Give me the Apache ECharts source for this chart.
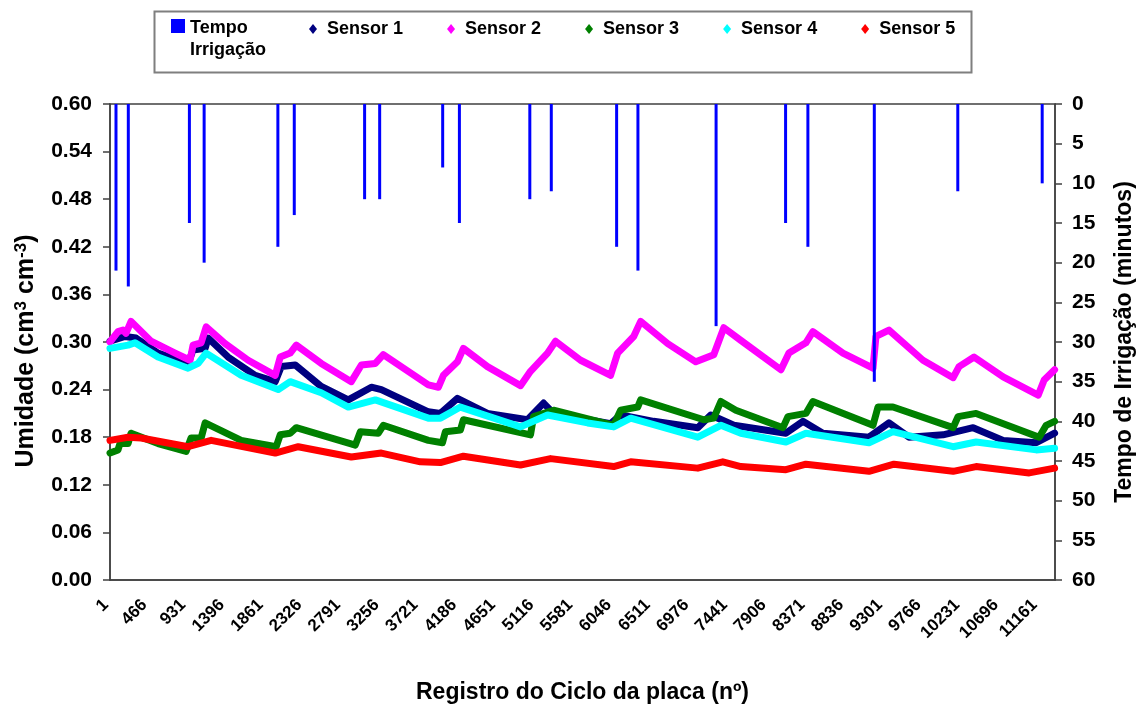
<!DOCTYPE html>
<html>
<head>
<meta charset="utf-8">
<script src="https://cdn.jsdelivr.net/npm/echarts@6/dist/echarts.min.js"></script>
<style>
html,body{margin:0;padding:0;background:#fff;}
#chart{width:1141px;height:704px;}
</style>
</head>
<body>
<div id="chart"></div>
<script>
// x tick labels (record numbers)
const xTickLabels = [1,466,931,1396,1861,2326,2791,3256,3721,4186,4651,5116,5581,6046,6511,6976,7441,7906,8371,8836,9301,9766,10231,10696,11161];
const xMax = 11355;

// Irrigation time (minutes) at record number
const tempoIrrigacao = [[73,21],[221,23],[955,15],[1132,20],[2018,18],[2215,14],[3060,12],[3241,12],[3998,8],[4199,15],[5045,12],[5303,11],[6088,18],[6344,21],[7283,28],[8118,15],[8386,18],[9184,35],[10187,11],[11201,10]];

const sensor1 = [[1,0.301],[181,0.307],[314,0.305],[578,0.286],[939,0.273],[999,0.290],[1144,0.292],[1180,0.305],[1420,0.281],[1745,0.258],[1986,0.250],[2058,0.269],[2227,0.271],[2539,0.244],[2864,0.227],[3141,0.243],[3261,0.240],[3826,0.212],[3971,0.210],[4175,0.229],[4536,0.210],[5017,0.202],[5210,0.223],[5330,0.210],[6016,0.197],[6136,0.208],[6533,0.200],[7063,0.192],[7219,0.208],[7496,0.195],[8122,0.185],[8326,0.200],[8566,0.185],[9120,0.180],[9360,0.198],[9601,0.180],[10010,0.183],[10371,0.192],[10732,0.176],[11129,0.173],[11350,0.185]];

const sensor2 = [[1,0.300],[97,0.313],[157,0.315],[193,0.311],[254,0.326],[494,0.301],[783,0.286],[963,0.277],[999,0.296],[1096,0.299],[1156,0.319],[1384,0.298],[1661,0.277],[1986,0.258],[2046,0.281],[2166,0.286],[2239,0.296],[2539,0.273],[2900,0.250],[3021,0.271],[3189,0.273],[3285,0.284],[3826,0.246],[3947,0.243],[4007,0.258],[4175,0.275],[4247,0.292],[4536,0.269],[4933,0.245],[5053,0.263],[5258,0.286],[5354,0.301],[5655,0.277],[6016,0.258],[6100,0.286],[6293,0.307],[6377,0.326],[6702,0.298],[7039,0.275],[7255,0.284],[7376,0.318],[7580,0.302],[8062,0.265],[8158,0.286],[8362,0.299],[8446,0.313],[8807,0.286],[9168,0.267],[9204,0.307],[9360,0.315],[9769,0.277],[10131,0.255],[10202,0.269],[10383,0.281],[10732,0.256],[11153,0.233],[11225,0.252],[11350,0.265]];

const sensor3 = [[1,0.160],[97,0.164],[121,0.172],[218,0.172],[254,0.185],[578,0.172],[915,0.162],[975,0.179],[1096,0.179],[1144,0.198],[1577,0.176],[1998,0.168],[2046,0.183],[2166,0.185],[2239,0.192],[2948,0.170],[3009,0.187],[3225,0.185],[3285,0.195],[3826,0.176],[3995,0.173],[4031,0.187],[4211,0.189],[4247,0.202],[5053,0.183],[5090,0.206],[5330,0.214],[6052,0.195],[6136,0.214],[6341,0.218],[6377,0.227],[7135,0.202],[7255,0.204],[7340,0.225],[7520,0.214],[8086,0.192],[8146,0.206],[8362,0.210],[8446,0.225],[9168,0.195],[9228,0.218],[9408,0.218],[10131,0.192],[10190,0.206],[10407,0.210],[11165,0.180],[11249,0.195],[11350,0.200]];

const sensor4 = [[1,0.292],[218,0.296],[302,0.299],[578,0.281],[939,0.267],[1060,0.273],[1156,0.286],[1577,0.258],[2022,0.240],[2166,0.250],[2539,0.236],[2864,0.218],[3189,0.227],[3826,0.204],[3971,0.204],[4211,0.218],[4933,0.193],[5258,0.208],[5739,0.198],[6052,0.193],[6257,0.204],[7063,0.180],[7340,0.195],[7580,0.185],[8122,0.174],[8362,0.185],[9120,0.173],[9408,0.187],[10131,0.168],[10407,0.174],[11129,0.164],[11350,0.166]];

const sensor5 = [[1,0.176],[218,0.180],[374,0.179],[939,0.168],[1216,0.176],[1986,0.160],[2263,0.168],[2900,0.155],[3261,0.160],[3730,0.149],[3971,0.148],[4247,0.156],[4933,0.145],[5294,0.153],[6052,0.143],[6257,0.149],[7063,0.141],[7364,0.149],[7580,0.143],[8122,0.139],[8362,0.146],[9120,0.137],[9420,0.146],[10131,0.137],[10407,0.143],[11045,0.135],[11350,0.141]];

const FONT = 'Liberation Sans';
const chart = echarts.init(document.getElementById('chart'), null, {renderer: 'canvas'});

function lineSeries(name, data, color) {
  return {
    name: name, type: 'line', data: data, xAxisIndex: 0, yAxisIndex: 0,
    showSymbol: false, symbol: 'diamond', symbolSize: 8,
    lineStyle: {color: color, width: 7, join: 'round', cap: 'round'},
    itemStyle: {color: color},
    animation: false, z: 3
  };
}

const option = {
  animation: false,
  backgroundColor: '#fff',
  textStyle: {fontFamily: FONT},
  graphic: [{
    type: 'rect', left: 152, top: 9,
    shape: {width: 817, height: 61},
    style: {fill: 'none', stroke: '#7f7f7f', lineWidth: 2},
    z: 0
  }],
  legend: [{
    data: ['Tempo Irrigação'],
    left: 171, top: 17, padding: 0,
    icon: 'path://M0,0L0,0M0,2L14,2L14,16L0,16ZM14,44L14,44',
    itemWidth: 14, itemHeight: 44,
    formatter: function () { return 'Tempo\nIrrigação'; },
    textStyle: {fontFamily: FONT, fontWeight: 'bold', fontSize: 18, color: '#000', lineHeight: 22},
    selectedMode: false
  }, {
    data: ['Sensor 1', 'Sensor 2', 'Sensor 3', 'Sensor 4', 'Sensor 5'],
    left: 309, top: 20, padding: 0,
    icon: 'diamond', itemWidth: 8, itemHeight: 10, itemGap: 44,
    textStyle: {fontFamily: FONT, fontWeight: 'bold', fontSize: 18, color: '#000', padding: [0, 0, 0, 5]},
    selectedMode: false
  }],
  grid: {
    left: 110, right: 86, top: 104, bottom: 124,
    outerBoundsMode: 'none',
    show: true, borderColor: '#404040', borderWidth: 1.5, backgroundColor: 'transparent'
  },
  xAxis: [{
    type: 'value', min: 1, max: xMax,
    name: 'Registro do Ciclo da placa (nº)', nameLocation: 'middle', nameGap: 101,
    nameTextStyle: {fontFamily: FONT, fontWeight: 'bold', fontSize: 23, color: '#000'},
    axisLine: {show: true, lineStyle: {color: '#404040', width: 1.5}},
    axisTick: {show: false},
    splitLine: {show: false},
    axisLabel: {
      customValues: xTickLabels,
      rotate: 45, margin: 18, padding: [0, 6, 0, 0],
      fontFamily: FONT, fontWeight: 'bold', fontSize: 17, color: '#000',
      formatter: function (v) { return String(v); }
    }
  }],
  yAxis: [{
    type: 'value', min: 0, max: 0.6, interval: 0.06,
    name: '{n|Umidade (cm}{s|3}{n| cm}{s|-3}{n|)}', nameLocation: 'middle', nameGap: 70, nameRotate: 90,
    nameTextStyle: {
      padding: [0, 18, 0, 0],
      rich: {
        n: {fontFamily: FONT, fontWeight: 'bold', fontSize: 25, color: '#000'},
        s: {fontFamily: FONT, fontWeight: 'bold', fontSize: 17, color: '#000', verticalAlign: 'top', padding: [0, 0, 10, 0]}
      }
    },
    axisLine: {show: true, lineStyle: {color: '#404040', width: 1.5}},
    axisTick: {show: true, inside: false, length: 7, lineStyle: {color: '#404040', width: 1.5}},
    splitLine: {show: false},
    axisLabel: {
      margin: 18, fontFamily: FONT, fontWeight: 'bold', fontSize: 21, color: '#000',
      formatter: function (v) { return v.toFixed(2); }
    }
  }, {
    type: 'value', min: 0, max: 60, interval: 5, inverse: true, position: 'right',
    name: 'Tempo de Irrigação (minutos)', nameLocation: 'middle', nameGap: 58, nameRotate: 90,
    nameTextStyle: {fontFamily: FONT, fontWeight: 'bold', fontSize: 23, color: '#000'},
    axisLine: {show: true, lineStyle: {color: '#404040', width: 1.5}},
    axisTick: {show: true, inside: false, length: 7, lineStyle: {color: '#404040', width: 1.5}},
    splitLine: {show: false},
    axisLabel: {margin: 17, fontFamily: FONT, fontWeight: 'bold', fontSize: 21, color: '#000'}
  }],
  series: [
    {
      name: 'Tempo Irrigação', type: 'bar', data: tempoIrrigacao,
      xAxisIndex: 0, yAxisIndex: 1, barWidth: 3,
      itemStyle: {color: '#0000FF'}, z: 5, animation: false
    },
    lineSeries('Sensor 1', sensor1, '#000080'),
    lineSeries('Sensor 2', sensor2, '#FF00FF'),
    lineSeries('Sensor 3', sensor3, '#008000'),
    lineSeries('Sensor 4', sensor4, '#00FFFF'),
    lineSeries('Sensor 5', sensor5, '#FF0000')
  ]
};
chart.setOption(option);
</script>
</body>
</html>
